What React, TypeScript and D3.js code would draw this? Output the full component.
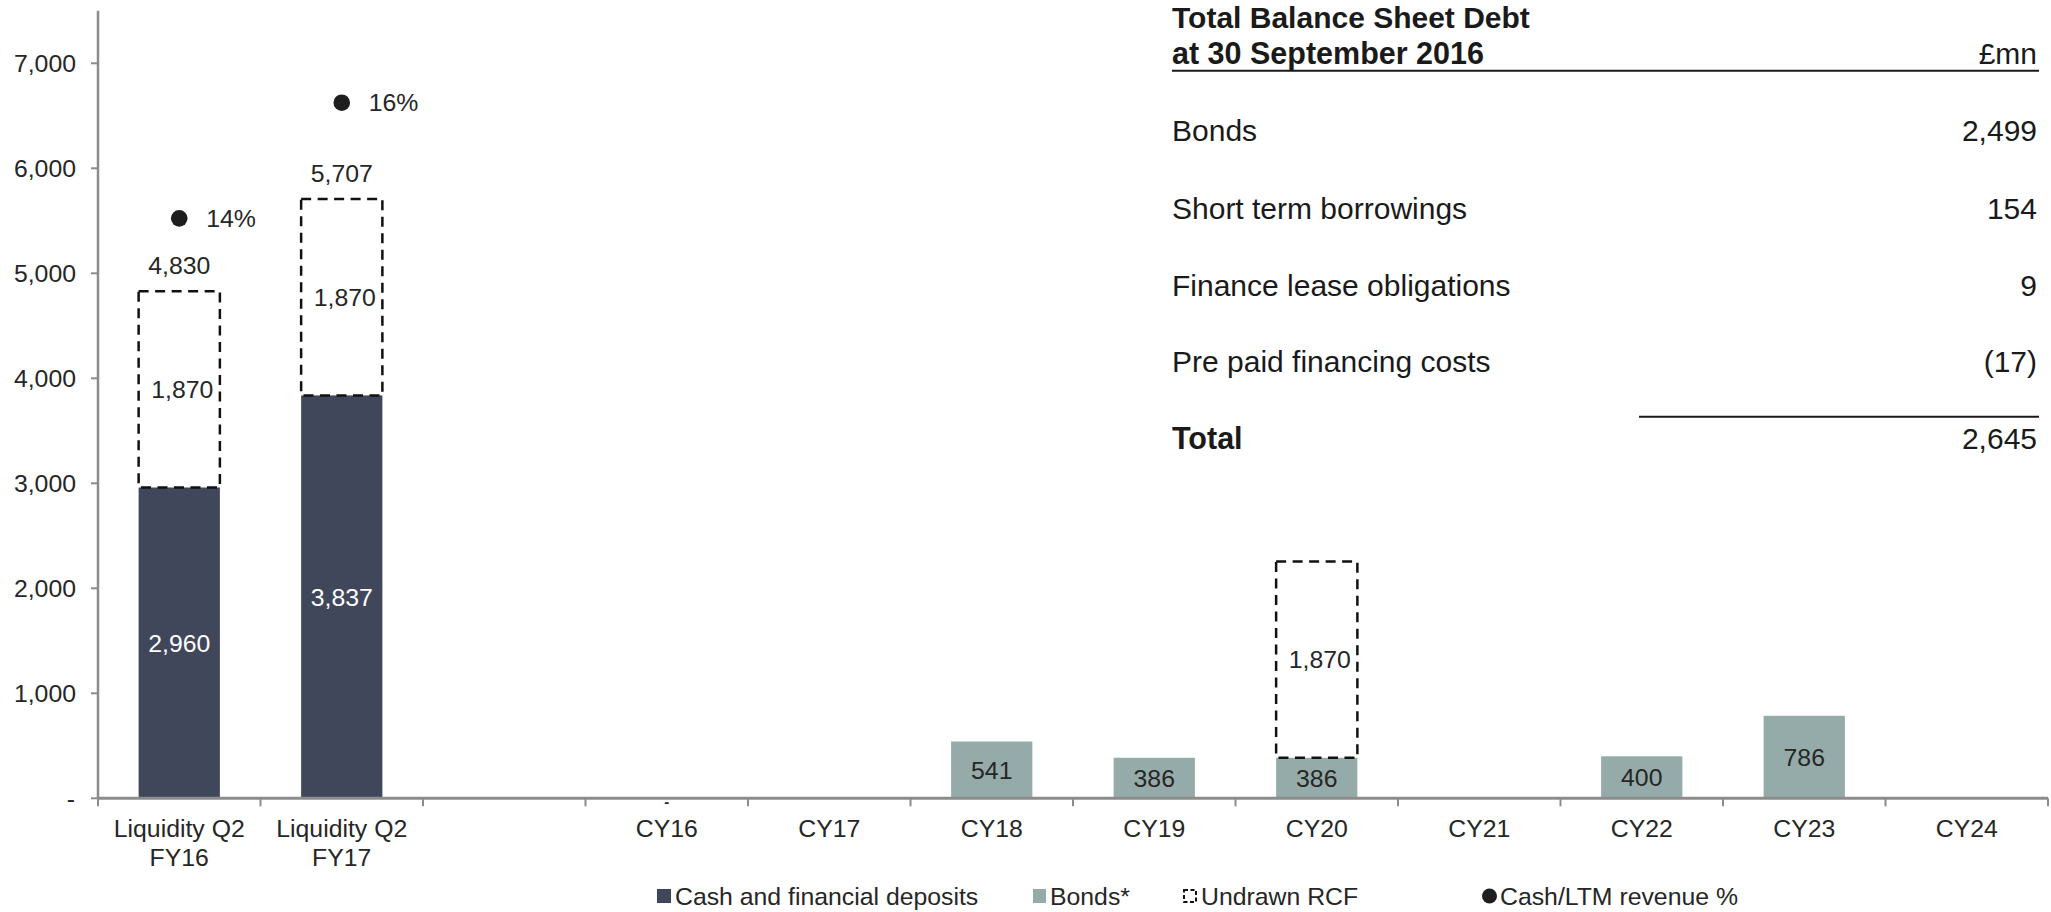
import React from "react";
import * as d3 from "d3";

const categories = ["LQ16", "LQ17", "gap", "CY16", "CY17", "CY18", "CY19", "CY20", "CY21", "CY22", "CY23", "CY24"];
const categoryLabels: string[][] = [
  ["Liquidity Q2", "FY16"],
  ["Liquidity Q2", "FY17"],
  [""],
  ["CY16"], ["CY17"], ["CY18"], ["CY19"], ["CY20"], ["CY21"], ["CY22"], ["CY23"], ["CY24"],
];
const cashValues: (number | null)[] = [2960, 3837, null, null, null, null, null, null, null, null, null, null];
const bondValues: (number | null)[] = [null, null, null, 0, null, 541, 386, 386, null, 400, 786, null];
const rcfValues: (number | null)[] = [1870, 1870, null, null, null, null, null, 1870, null, null, null, null];
const totalLabels: (string | null)[] = ["4,830", "5,707", null, null, null, null, null, null, null, null, null, null];
const cashRevenuePct: (number | null)[] = [0.14, 0.16, null, null, null, null, null, null, null, null, null, null];

const yTicks = [0, 1000, 2000, 3000, 4000, 5000, 6000, 7000];

const tableTitle = ["Total Balance Sheet Debt", "at 30 September 2016"];
const tableUnit = "£mn";
const tableRows = ["Bonds", "Short term borrowings", "Finance lease obligations", "Pre paid financing costs"];
const tableValues = ["2,499", "154", "9", "(17)"];
const tableTotalLabel = "Total";
const tableTotalValue = "2,645";

const legendItems = ["Cash and financial deposits", "Bonds*", "Undrawn RCF", "Cash/LTM revenue %"];

const W = 2051;
const H = 912;
const CASH = "#41475b";
const BOND = "#95abaa";
const AXIS = "#8c8c8c";
const TXT = "#262626";
const FONT = "'Liberation Sans', Arial, sans-serif";
const FS = 24.8;

export default function App() {
  const x = d3.scaleBand<string>().domain(categories).range([98, 2048]).paddingInner(0.5).paddingOuter(0.25);
  const y = d3.scaleLinear().domain([0, 7500]).range([798.3, 10.8]);
  const y2 = d3.scaleLinear().domain([0.0397, 0.1759]).range([798.3, 10.8]);
  const step = x.step();
  const bw = x.bandwidth();
  const fmt = d3.format(",");
  const boundaries = categories.map((c) => (x(c) as number) - step * 0.25).concat([2048]);

  const tableLeft = 1172;
  const tableRight = 2037;
  const rowY = [141, 219, 296, 372];

  const legendX = [657, 1033, 1183, 1482];
  const legendY = 896;

  return (
    <svg width={W} height={H} style={{ position: "absolute", left: 0, top: 0, background: "#fff" }} fontFamily={FONT}>
      {/* Y axis */}
      <line x1={98} x2={98} y1={y(7500)} y2={y(0)} stroke={AXIS} strokeWidth={2.5} />
      {yTicks.map((t) => (
        <g key={t}>
          <line x1={91} x2={98} y1={y(t)} y2={y(t)} stroke={AXIS} strokeWidth={2} />
          <text x={t === 0 ? 75 : 76} y={y(t)} dy="0.35em" textAnchor="end" fontSize={FS} fill={TXT}>
            {t === 0 ? "-" : fmt(t)}
          </text>
        </g>
      ))}
      {/* cash bars */}
      {categories.map((c, i) =>
        cashValues[i] != null ? (
          <g key={"c" + c}>
            <rect x={x(c)} y={y(cashValues[i] as number)} width={bw} height={y(0) - y(cashValues[i] as number)} fill={CASH} />
            <text x={(x(c) as number) + bw / 2} y={(y(0) + y(cashValues[i] as number)) / 2} dy="0.35em" textAnchor="middle" fontSize={FS} fill="#fff">
              {fmt(cashValues[i] as number)}
            </text>
          </g>
        ) : null
      )}
      {/* bond bars */}
      {categories.map((c, i) => {
        const v = bondValues[i];
        if (v == null) return null;
        if (v === 0)
          return (
            <text key={"b" + c} x={(x(c) as number) + bw / 2} y={y(0) + 3} dy="0.35em" textAnchor="middle" fontSize={FS * 0.6} fontWeight="bold" fill={TXT}>
              -
            </text>
          );
        return (
          <g key={"b" + c}>
            <rect x={x(c)} y={y(v)} width={bw} height={y(0) - y(v)} fill={BOND} />
            <text x={(x(c) as number) + bw / 2} y={(y(0) + y(v)) / 2} dy="0.35em" textAnchor="middle" fontSize={FS} fill={TXT}>
              {fmt(v)}
            </text>
          </g>
        );
      })}
      {/* RCF dashed boxes */}
      {categories.map((c, i) => {
        const r = rcfValues[i];
        if (r == null) return null;
        const base = (cashValues[i] ?? 0) + (bondValues[i] ?? 0);
        const top = base + r;
        return (
          <g key={"r" + c}>
            <rect x={x(c)} y={y(top)} width={bw} height={y(base) - y(top)} fill="none" stroke="#111" strokeWidth={2.5} strokeDasharray="10,6.5" />
            <text x={(x(c) as number) + bw / 2 + 3} y={(y(base) + y(top)) / 2} dy="0.35em" textAnchor="middle" fontSize={FS} fill={TXT}>
              {fmt(r)}
            </text>
            {totalLabels[i] ? (
              <text x={(x(c) as number) + bw / 2} y={y(top) - 26} dy="0.35em" textAnchor="middle" fontSize={FS} fill={TXT}>
                {totalLabels[i]}
              </text>
            ) : null}
          </g>
        );
      })}
      {/* cash / LTM revenue dots */}
      {categories.map((c, i) => {
        const p = cashRevenuePct[i];
        if (p == null) return null;
        const cx = (x(c) as number) + bw / 2;
        return (
          <g key={"d" + c}>
            <circle cx={cx} cy={y2(p)} r={8.3} fill="#1e1e1e" />
            <text x={cx + 27} y={y2(p)} dy="0.35em" fontSize={FS} fill={TXT}>
              {d3.format(".0%")(p)}
            </text>
          </g>
        );
      })}
      {/* X axis */}
      <line x1={98} x2={2048} y1={y(0)} y2={y(0)} stroke={AXIS} strokeWidth={3} />
      {boundaries.map((b, i) => (
        <line key={"t" + i} x1={b} x2={b} y1={y(0)} y2={y(0) + 8} stroke={AXIS} strokeWidth={2} />
      ))}
      {categories.map((c, i) =>
        categoryLabels[i].map((ln, j) => (
          <text key={"l" + c + j} x={(x(c) as number) + bw / 2} y={828.5 + j * 28.7} dy="0.35em" textAnchor="middle" fontSize={FS} fill={TXT}>
            {ln}
          </text>
        ))
      )}
      {/* Table */}
      <g fill="#1a1a1a" fontSize={30}>
        <text x={tableLeft} y={27.5} fontWeight="bold" fontSize={30}>{tableTitle[0]}</text>
        <text x={tableLeft} y={64} fontWeight="bold" fontSize={30.5}>{tableTitle[1]}</text>
        <text x={tableRight} y={64} textAnchor="end">{tableUnit}</text>
        <line x1={tableLeft} x2={tableRight + 2} y1={70.7} y2={70.7} stroke="#1a1a1a" strokeWidth={2} />
        {tableRows.map((r, i) => (
          <g key={r}>
            <text x={tableLeft} y={rowY[i]}>{r}</text>
            <text x={tableRight} y={rowY[i]} textAnchor="end">{tableValues[i]}</text>
          </g>
        ))}
        <line x1={1639} x2={tableRight + 2} y1={416.7} y2={416.7} stroke="#1a1a1a" strokeWidth={2} />
        <text x={tableLeft} y={449} fontWeight="bold" fontSize={30.5}>{tableTotalLabel}</text>
        <text x={tableRight} y={449} textAnchor="end">{tableTotalValue}</text>
      </g>
      {/* Legend */}
      <g fontSize={FS} fill={TXT}>
        <rect x={legendX[0]} y={legendY - 7} width={14} height={14} fill={CASH} />
        <text x={legendX[0] + 18} y={legendY} dy="0.35em">{legendItems[0]}</text>
        <rect x={legendX[1]} y={legendY - 7} width={13} height={14} fill={BOND} />
        <text x={legendX[1] + 17} y={legendY} dy="0.35em">{legendItems[1]}</text>
        <rect x={legendX[2] + 1} y={legendY - 6} width={12} height={12} fill="none" stroke="#111" strokeWidth={2} strokeDasharray="4,2.5" />
        <text x={legendX[2] + 18} y={legendY} dy="0.35em">{legendItems[2]}</text>
        <circle cx={legendX[3] + 7.5} cy={legendY} r={7.5} fill="#1e1e1e" />
        <text x={legendX[3] + 18} y={legendY} dy="0.35em">{legendItems[3]}</text>
      </g>
    </svg>
  );
}
